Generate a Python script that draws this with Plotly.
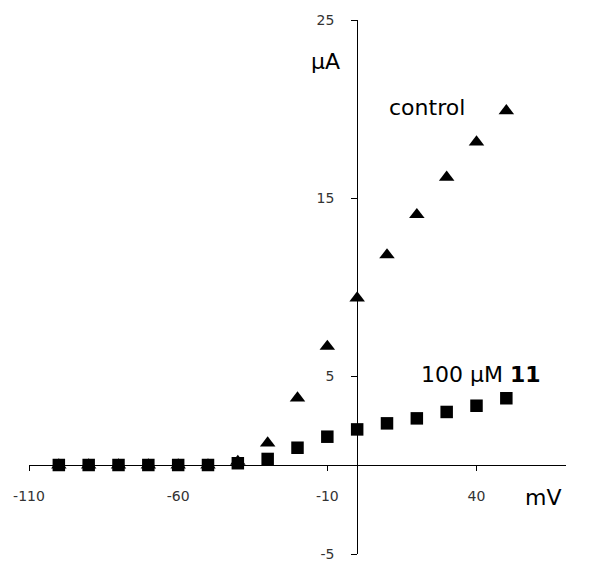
import plotly.graph_objects as go

# Data
voltage_mV = [-100, -90, -80, -70, -60, -50, -40, -30, -20, -10, 0, 10, 20, 30, 40, 50]
control_uA = [0, 0, 0, 0, 0, 0, 0.2, 1.23, 3.76, 6.66, 9.38, 11.8, 14.06, 16.16, 18.14, 19.9]
compound11_uA = [0, 0, 0, 0, 0, 0, 0.1, 0.34, 0.97, 1.59, 2.0, 2.34, 2.62, 2.98, 3.33, 3.75]

x_ticks = [-110, -60, -10, 40]
y_ticks = [-5, 5, 15, 25]
x_range = [-110, 70]
y_range = [-5, 25]

FONT = "DejaVu Sans"

fig = go.Figure()
fig.add_trace(go.Scatter(
    x=voltage_mV, y=control_uA, mode="markers", name="control",
    marker=dict(symbol="triangle-up", size=13.5, color="black"),
    showlegend=False,
))
fig.add_trace(go.Scatter(
    x=voltage_mV, y=compound11_uA, mode="markers", name="100 μM 11",
    marker=dict(symbol="square", size=12.5, color="black"),
    showlegend=False,
))

x_pos = (0 - y_range[0]) / (y_range[1] - y_range[0])
y_pos = (0 - x_range[0]) / (x_range[1] - x_range[0])

fig.update_layout(
    width=589, height=555,
    margin=dict(l=21, r=31, t=12, b=9),
    paper_bgcolor="white", plot_bgcolor="white",
    font=dict(family=FONT, color="black"),
    xaxis=dict(
        range=x_range, tickvals=x_ticks, ticktext=[str(v) for v in x_ticks],
        showgrid=False, zeroline=False, showline=True, linecolor="black", linewidth=1,
        ticks="outside", ticklen=5, tickcolor="black", tickwidth=1,
        tickfont=dict(family=FONT, size=14, color="#333"),
        anchor="free", position=x_pos, side="bottom",
        ticklabelstandoff=13, automargin=False,
    ),
    yaxis=dict(
        range=y_range, tickvals=y_ticks, ticktext=[str(v) for v in y_ticks],
        showgrid=False, zeroline=False, showline=True, linecolor="black", linewidth=1,
        ticks="outside", ticklen=6, tickcolor="black", tickwidth=1,
        tickfont=dict(family=FONT, size=14, color="#333"),
        anchor="free", position=y_pos, side="left",
        ticklabelstandoff=14, automargin=False,
    ),
    annotations=[
        dict(x=-10.7, y=22.65, text="μA", showarrow=False, xref="x", yref="y",
             font=dict(size=22, family=FONT), xanchor="center", yanchor="middle"),
        dict(x=23.5, y=20.06, text="control", showarrow=False, xref="x", yref="y",
             font=dict(size=22, family=FONT), xanchor="center", yanchor="middle"),
        dict(x=41.6, y=5.1, text="100 μM <b>11</b>", showarrow=False, xref="x", yref="y",
             font=dict(size=22, family=FONT), xanchor="center", yanchor="middle"),
        dict(x=62.2, y=-1.8, text="mV", showarrow=False, xref="x", yref="y",
             font=dict(size=22, family=FONT), xanchor="center", yanchor="middle"),
    ],
)

fig.write_html("out.html")
